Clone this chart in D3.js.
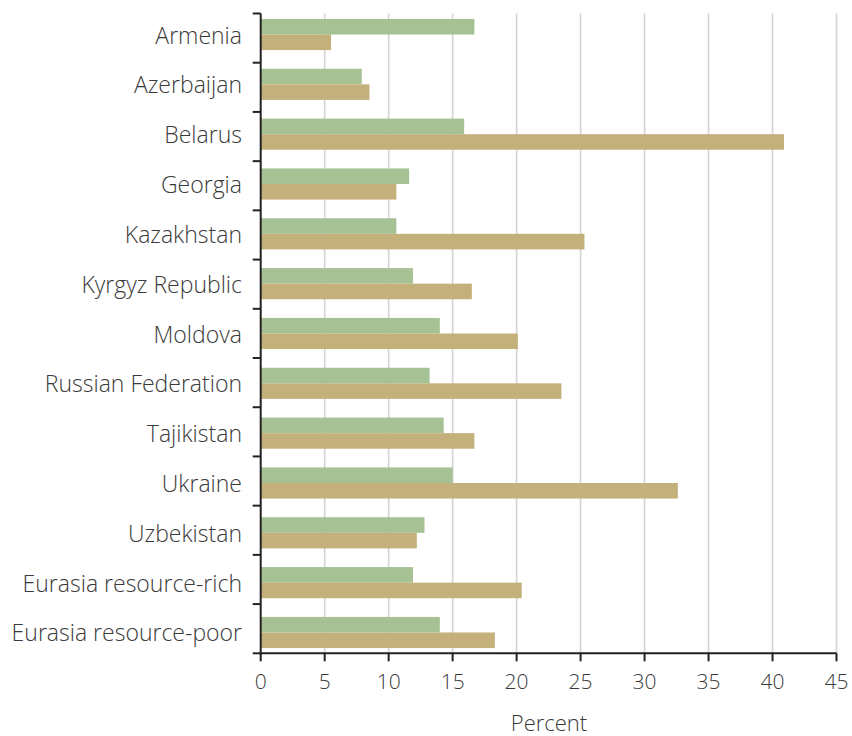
<!DOCTYPE html>
<html>
<head>
<meta charset="utf-8">
<script src="https://cdn.jsdelivr.net/npm/d3@7"></script>
<style>
  html, body { margin: 0; padding: 0; background: #fff; }
  text { font-family: "Open Sans", "Noto Sans", sans-serif; font-weight: 300; fill: #3a3a3a; }
</style>
</head>
<body>
<svg id="chart" width="852" height="736"></svg>
<script>
const categories = ["Armenia", "Azerbaijan", "Belarus", "Georgia", "Kazakhstan", "Kyrgyz Republic",
  "Moldova", "Russian Federation", "Tajikistan", "Ukraine", "Uzbekistan",
  "Eurasia resource-rich", "Eurasia resource-poor"];
const seriesA = [16.7, 7.9, 15.9, 11.6, 10.6, 11.9, 14.0, 13.2, 14.3, 15.0, 12.8, 11.9, 14.0];
const seriesB = [5.5, 8.5, 40.9, 10.6, 25.3, 16.5, 20.1, 23.5, 16.7, 32.6, 12.2, 20.4, 18.3];
const xTicks = [0, 5, 10, 15, 20, 25, 30, 35, 40, 45];
const xTitle = "Percent";
const colors = ["#a6c194", "#c4b07b"];

const svg = d3.select("#chart");
const x = d3.scaleLinear().domain([0, 45]).range([260.7, 836.5]);
const yTick = d3.scaleBand().domain(categories).range([13.5, 653.3]);
const yBar = d3.scaleBand().domain(categories).range([9.6, 657.4]);
const series = ["a", "b"];
const ySub = d3.scaleBand().domain(series).range([0, yBar.bandwidth() * 0.625]);
const offset = (yBar.bandwidth() - yBar.bandwidth() * 0.625) / 2;

// gridlines
svg.append("g").selectAll("line").data(xTicks.filter(t => t > 0)).join("line")
  .attr("x1", d => x(d)).attr("x2", d => x(d))
  .attr("y1", yTick.range()[0]).attr("y2", yTick.range()[1])
  .attr("stroke", "#d3d3d3").attr("stroke-width", 1.6);

// bars
const rows = categories.map((c, i) => ({c, vals: [seriesA[i], seriesB[i]]}));
const g = svg.append("g").selectAll("g").data(rows).join("g")
  .attr("transform", d => `translate(0,${yBar(d.c) + offset})`);
g.selectAll("rect").data(d => d.vals.map((v, j) => ({v, s: series[j], j}))).join("rect")
  .attr("x", x(0)).attr("y", d => ySub(d.s))
  .attr("width", d => x(d.v) - x(0)).attr("height", ySub.bandwidth())
  .attr("fill", d => colors[d.j]);

// y axis line + ticks
const yAxisG = svg.append("g");
yAxisG.append("line").attr("x1", x(0)).attr("x2", x(0))
  .attr("y1", yTick.range()[0]).attr("y2", yTick.range()[1] + 1)
  .attr("stroke", "#222").attr("stroke-width", 2);
const tickYs = categories.map(c => yTick(c)).concat([yTick.range()[1]]);
yAxisG.selectAll("line.t").data(tickYs).join("line").attr("class", "t")
  .attr("x1", x(0) - 8).attr("x2", x(0)).attr("y1", d => d).attr("y2", d => d)
  .attr("stroke", "#222").attr("stroke-width", 2);
// category labels
svg.append("g").selectAll("text").data(categories).join("text")
  .attr("x", 242).attr("y", d => yBar(d) + yBar.bandwidth() / 2)
  .attr("text-anchor", "end").attr("dominant-baseline", "central")
  .attr("font-size", 23).text(d => d);

// x axis
const xAxisG = svg.append("g");
xAxisG.append("line").attr("x1", x(0) - 1).attr("x2", x(45))
  .attr("y1", yTick.range()[1]).attr("y2", yTick.range()[1])
  .attr("stroke", "#222").attr("stroke-width", 2);
xAxisG.selectAll("line.t").data(xTicks).join("line").attr("class", "t")
  .attr("x1", d => x(d)).attr("x2", d => x(d))
  .attr("y1", yTick.range()[1]).attr("y2", yTick.range()[1] + 8)
  .attr("stroke", "#222").attr("stroke-width", 2);
xAxisG.selectAll("text").data(xTicks).join("text")
  .attr("x", d => x(d)).attr("y", 681)
  .attr("text-anchor", "middle").attr("dominant-baseline", "central")
  .attr("font-size", 21).text(d => d);
svg.append("text").attr("x", 549).attr("y", 722)
  .attr("text-anchor", "middle").attr("dominant-baseline", "central")
  .attr("font-size", 22).text(xTitle);
</script>
</body>
</html>
